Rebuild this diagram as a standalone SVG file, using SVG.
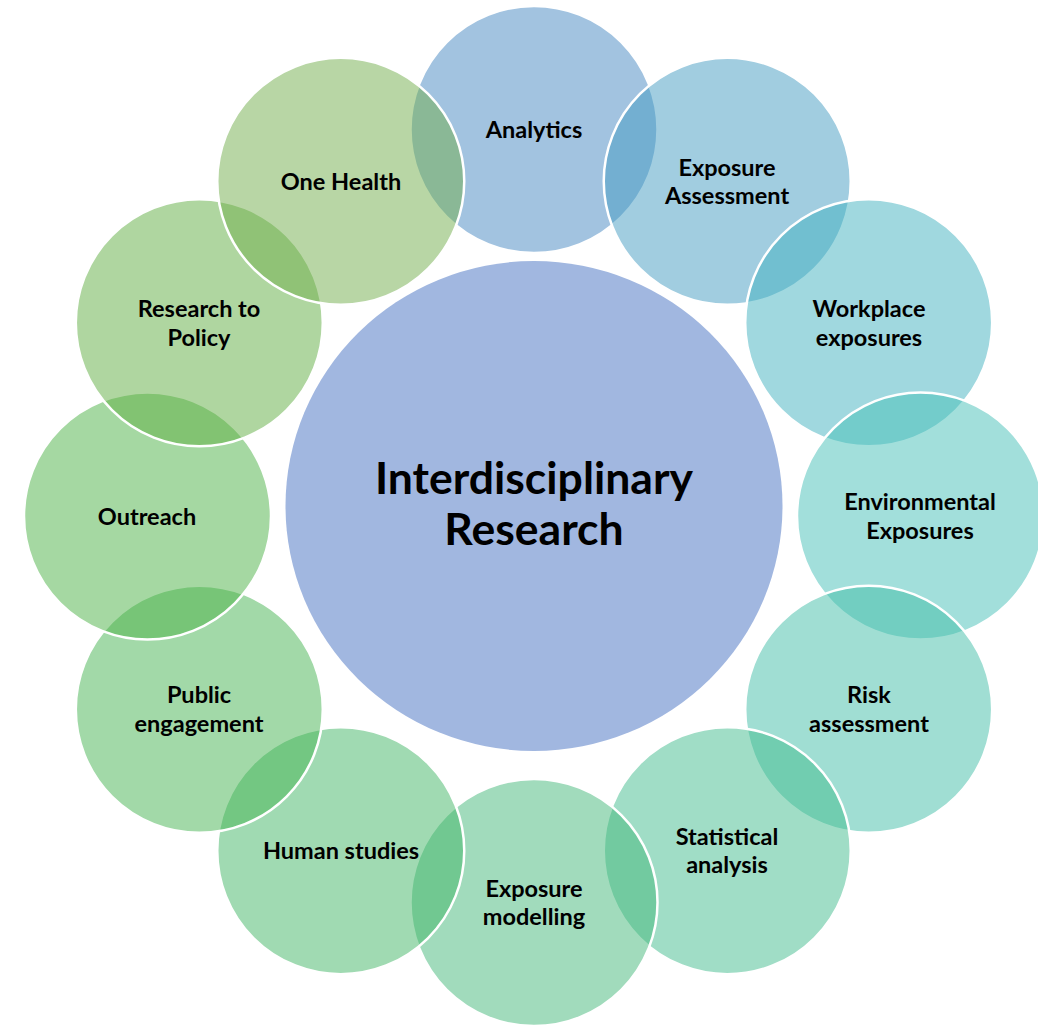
<svg xmlns="http://www.w3.org/2000/svg" width="1038" height="1026" viewBox="0 0 1038 1026">
<style>
.c{fill-opacity:0.5;stroke:#fff;stroke-width:2.5}
.t{font-family:Lato,"Open Sans",sans-serif;font-weight:bold;font-size:23.5px;text-anchor:middle;fill:#000}
.big{font-size:44.5px}
</style>
<rect width="1038" height="1026" fill="#fff"/>
<g id="center">
<ellipse cx="534" cy="506" rx="248.5" ry="245" fill="#a1b7e0"/>
<text class="t big" x="534" y="494">Interdisciplinary</text>
<text class="t big" x="534" y="545">Research</text>
</g>
<g id="analytics"><circle class="c" cx="534" cy="129.5" r="123.5" fill="#4587c1"/><text class="t" x="534" y="137.5">Analytics</text></g>
<g id="exposure-assessment"><circle class="c" cx="727.25" cy="181.3" r="123.5" fill="#439bc1"/><text class="t" x="727" y="175.5">Exposure</text><text class="t" x="727" y="204">Assessment</text></g>
<g id="workplace"><circle class="c" cx="868.7" cy="322.75" r="123.5" fill="#41b1bf"/><text class="t" x="869" y="317">Workplace</text><text class="t" x="869" y="345.5">exposures</text></g>
<g id="environmental"><circle class="c" cx="920.5" cy="516" r="123.5" fill="#45bfb7"/><text class="t" x="920" y="510">Environmental</text><text class="t" x="920" y="538.5">Exposures</text></g>
<g id="risk"><circle class="c" cx="868.7" cy="709.25" r="123.5" fill="#41bda7"/><text class="t" x="869" y="703">Risk</text><text class="t" x="869" y="731.5">assessment</text></g>
<g id="statistical"><circle class="c" cx="727.25" cy="850.7" r="123.5" fill="#41bb8d"/><text class="t" x="727" y="844.5">Statistical</text><text class="t" x="727" y="873">analysis</text></g>
<g id="exposure-modelling"><circle class="c" cx="534" cy="902.5" r="123.5" fill="#43b779"/><text class="t" x="534" y="896.5">Exposure</text><text class="t" x="534" y="925">modelling</text></g>
<g id="human-studies"><circle class="c" cx="340.75" cy="850.7" r="123.5" fill="#41b565"/><text class="t" x="341" y="859">Human studies</text></g>
<g id="public-engagement"><circle class="c" cx="199.3" cy="709.25" r="123.5" fill="#45b351"/><text class="t" x="199" y="703">Public</text><text class="t" x="199" y="731.5">engagement</text></g>
<g id="outreach"><circle class="c" cx="147.5" cy="516" r="123.5" fill="#4bb145"/><text class="t" x="147" y="524.5">Outreach</text></g>
<g id="research-to-policy"><circle class="c" cx="199.3" cy="322.75" r="123.5" fill="#5fad41"/><text class="t" x="199" y="317">Research to</text><text class="t" x="199" y="345.5">Policy</text></g>
<g id="one-health"><circle class="c" cx="340.75" cy="181.3" r="123.5" fill="#71ad4b"/><text class="t" x="341" y="189.5">One Health</text></g>
</svg>
